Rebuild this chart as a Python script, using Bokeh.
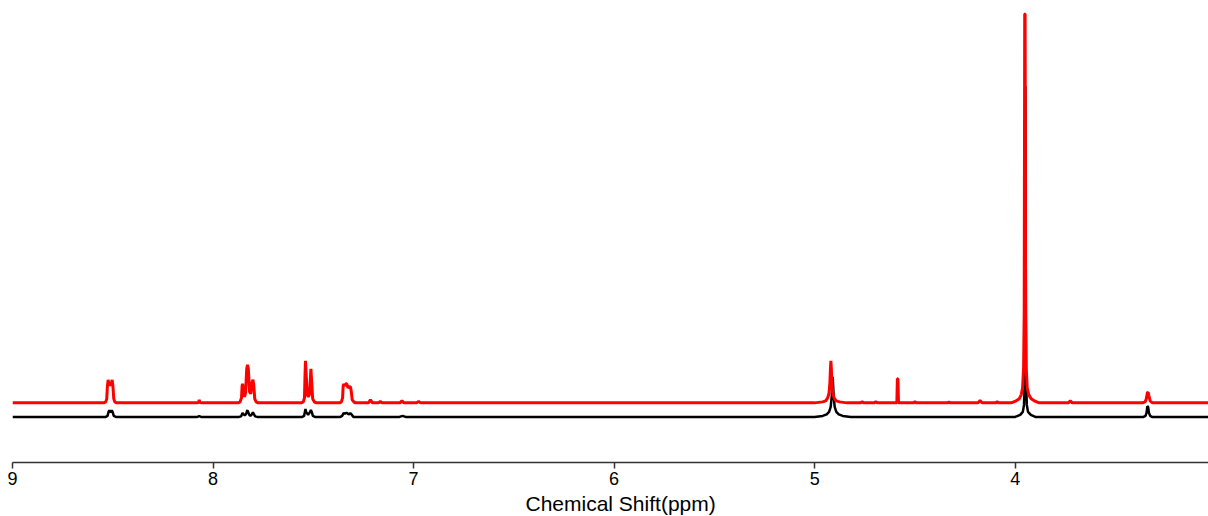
from bokeh.plotting import figure
from bokeh.models import Range1d, FixedTicker, Title
from bokeh.embed import file_html
from bokeh.resources import INLINE

# ---- data: spectrum vertices (ppm, intensity) ----
red_ppm = [9.000, 8.545, 8.535, 8.530, 8.527, 8.523, 8.518, 8.513, 8.508, 8.503, 8.499, 8.495, 8.490, 8.480,
           8.080, 8.072, 8.069, 8.066, 8.058,
           7.875, 7.865, 7.858, 7.855, 7.853, 7.850, 7.843, 7.838, 7.832, 7.828, 7.824, 7.818, 7.812, 7.806, 7.801, 7.797, 7.792, 7.785, 7.775,
           7.560, 7.550, 7.544, 7.541, 7.539, 7.536, 7.530, 7.525, 7.518, 7.514, 7.512, 7.509, 7.503, 7.495, 7.485,
           7.370, 7.360, 7.354, 7.351, 7.348, 7.343, 7.338, 7.333, 7.327, 7.320, 7.315, 7.311, 7.306, 7.298, 7.290,
           7.225, 7.215, 7.205, 7.175, 7.166, 7.157, 7.068, 7.058, 7.048, 6.985, 6.975, 6.965,
           5.000, 4.960, 4.945, 4.935, 4.928, 4.924, 4.921, 4.919, 4.917, 4.914, 4.910, 4.903, 4.893, 4.875, 4.840,
           4.772, 4.763, 4.754, 4.704, 4.695, 4.686,
           4.590, 4.5875, 4.5845, 4.582,
           4.508, 4.500, 4.492, 4.338, 4.330, 4.322, 4.185, 4.175, 4.165, 4.098, 4.090, 4.082,
           4.020, 3.995, 3.980, 3.970, 3.963, 3.958, 3.955, 3.9525, 3.9505, 3.948, 3.945, 3.940, 3.932, 3.920, 3.905, 3.880,
           3.735, 3.725, 3.715,
           3.365, 3.352, 3.346, 3.341, 3.337, 3.333, 3.327, 3.315, 3.000]
red_int = [0, 0, 1, 4, 16, 23, 17, 21, 17, 23, 16, 4, 1, 0,
           0, 0.5, 3, 0.5, 0,
           0, 1, 5, 17, 19, 15, 6, 10, 34, 38, 34, 11, 9, 20, 23, 18, 4, 1, 0,
           0, 1, 5, 30, 42, 30, 8, 6, 9, 26, 34, 24, 4, 1, 0,
           0, 1, 5, 17, 19, 17, 19, 19, 15, 16, 16, 12, 3, 1, 0,
           0, 3, 0, 0, 1.5, 0, 0, 2, 0, 0, 1.5, 0,
           0, 1, 2, 5, 10, 20, 35, 42, 35, 20, 10, 5, 2, 1, 0,
           0, 1, 0, 0, 1, 0,
           0, 24, 24, 0,
           0, 1, 0, 0, 0.8, 0, 0, 2.5, 0, 0, 1, 0,
           0, 2, 4, 8, 15, 35, 90, 388, 388, 90, 35, 15, 8, 4, 2, 0,
           0, 2, 0,
           0, 1, 4, 10, 10.5, 7, 2, 0, 0]

black_ppm = [9.000, 8.535, 8.526, 8.521, 8.517, 8.511, 8.505, 8.501, 8.495, 8.485,
             8.078, 8.069, 8.060,
             7.870, 7.860, 7.855, 7.853, 7.850, 7.842, 7.835, 7.830, 7.828, 7.825, 7.818, 7.810, 7.804, 7.801, 7.797, 7.790, 7.780,
             7.555, 7.546, 7.542, 7.539, 7.536, 7.526, 7.516, 7.512, 7.508, 7.502, 7.492,
             7.365, 7.356, 7.351, 7.348, 7.342, 7.336, 7.333, 7.324, 7.316, 7.313, 7.308, 7.300,
             7.070, 7.055, 7.040,
             5.000, 4.960, 4.940, 4.928, 4.920, 4.915, 4.912, 4.910, 4.908, 4.905, 4.900, 4.892, 4.880, 4.860, 4.820,
             4.000, 3.975, 3.962, 3.956, 3.952, 3.949, 3.946, 3.942, 3.936, 3.922, 3.900,
             3.360, 3.350, 3.345, 3.341, 3.337, 3.333, 3.327, 3.318, 3.000]
black_int = [0, 0, 1, 5, 6.5, 4.5, 6.5, 5, 1, 0,
             0, 0.7, 0,
             0, 0.5, 3, 4, 3, 1.5, 3, 6, 6.5, 5, 1.5, 1.5, 3.5, 4.5, 3, 0.5, 0,
             0, 1, 5, 8, 5, 2, 5, 7, 5, 1, 0,
             0, 1, 3, 4, 3, 4, 4, 2.5, 3.5, 3.5, 2, 0,
             0, 1, 0,
             0, 1, 2.5, 5, 10, 20, 32, 40, 32, 20, 10, 5, 2.5, 1, 0,
             0, 2, 5, 12, 40, 330, 40, 12, 5, 2, 0,
             0, 1, 4, 10.5, 10, 4, 1, 0, 0]

x_ticks = [9, 8, 7, 6, 5, 4]
x_label = "Chemical Shift(ppm)"

# ---- figure ----
red_offset = 14.0  # vertical offset of the stacked (red) spectrum

p = figure(width=1208, height=516, output_backend="svg", toolbar_location=None,
           x_range=Range1d(9.0, 3.036), y_range=Range1d(-45.5, 415.5),
           y_axis_location=None, min_border_left=12, min_border_right=0,
           min_border_top=0, min_border_bottom=0)
p.outline_line_color = None
p.xgrid.visible = False
p.ygrid.visible = False
p.background_fill_color = "white"
p.border_fill_color = "white"

p.line(black_ppm, black_int, line_color="black", line_width=2.5)
p.line(red_ppm, [v + red_offset for v in red_int], line_color="#ff0000", line_width=3)

ax = p.xaxis[0]
ax.ticker = FixedTicker(ticks=x_ticks)
ax.axis_line_color = "#333333"
ax.axis_line_width = 1.5
ax.major_tick_line_color = "#333333"
ax.major_tick_line_width = 1.5
ax.major_tick_out = 6
ax.major_tick_in = 0
ax.minor_tick_line_color = None
ax.major_label_text_font = "Liberation Sans"
ax.major_label_text_font_size = "18px"
ax.major_label_text_color = "black"
ax.major_label_standoff = 3

xlabel = Title(text=x_label, align="left", offset=513, standoff=4,
               text_font="Liberation Sans", text_font_size="21px",
               text_font_style="normal", text_color="black")
p.add_layout(xlabel, "below")

open("out.html", "w").write(file_html(p, INLINE))
